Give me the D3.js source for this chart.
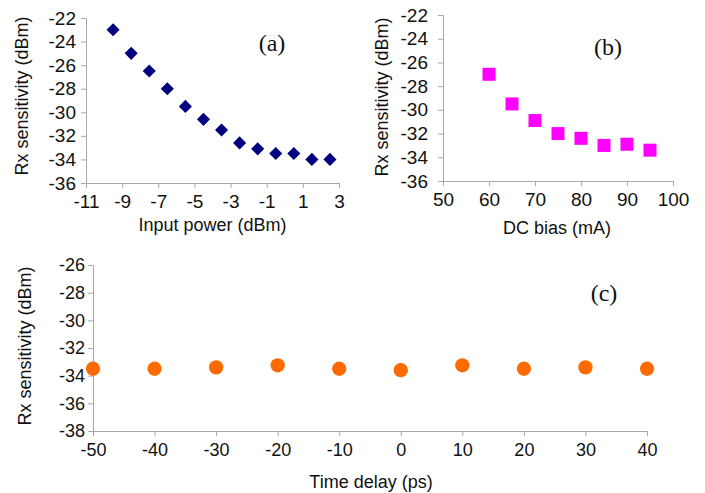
<!DOCTYPE html>
<html>
<head>
<meta charset="utf-8">
<script src="https://cdn.jsdelivr.net/npm/d3@7"></script>
<style>
  body { margin: 0; background: #fff; }
  text { font-family: "Liberation Sans", Arial, sans-serif; fill: #111; }
  .tag { font-family: "Liberation Serif", "Times New Roman", serif; }
</style>
</head>
<body>
<div id="main"></div>
<script>

// (a) sensitivity vs input power
var powerX = [-9.5, -8.5, -7.5, -6.5, -5.5, -4.5, -3.5, -2.5, -1.5, -0.5, 0.5, 1.5, 2.5];
var powerY = [-23, -25, -26.5, -28, -29.5, -30.6, -31.5, -32.6, -33.1, -33.5, -33.5, -34, -34];
var powerTicksX = [-11, -9, -7, -5, -3, -1, 1, 3];
var powerTicksY = [-36, -34, -32, -30, -28, -26, -24, -22];

// (b) sensitivity vs DC bias
var biasX = [60, 65, 70, 75, 80, 85, 90, 95];
var biasY = [-27, -29.5, -30.9, -32, -32.4, -33, -32.9, -33.4];
var biasTicksX = [50, 60, 70, 80, 90, 100];
var biasTicksY = [-36, -34, -32, -30, -28, -26, -24, -22];

// (c) sensitivity vs time delay
var delayX = [-50, -40, -30, -20, -10, 0, 10, 20, 30, 40];
var delayY = [-33.5, -33.5, -33.4, -33.25, -33.5, -33.6, -33.25, -33.5, -33.4, -33.5];
var delayTicksX = [-50, -40, -30, -20, -10, 0, 10, 20, 30, 40];
var delayTicksY = [-38, -36, -34, -32, -30, -28, -26];

var w = 705;
var h = 493;

var svg = d3.select("#main").append("svg")
    .attr("width", w)
    .attr("height", h);

function panel(p) {
  var x = d3.scaleLinear().domain(p.xdom).range([p.left, p.right]);
  var y = d3.scaleLinear().domain(p.ydom).range([p.bottom, p.top]);
  var g = svg.append("g");

  var xa = g.append("g")
      .attr("transform", "translate(0," + p.bottom + ")")
      .call(d3.axisBottom(x).tickValues(p.xticks).tickSize(5).tickPadding(7)
            .tickFormat(function(d) { return String(d); }));
  var ya = g.append("g")
      .attr("transform", "translate(" + p.left + ",0)")
      .call(d3.axisLeft(y).tickValues(p.yticks).tickSize(5).tickPadding(p.ypad)
            .tickFormat(function(d) { return String(d); }));

  [xa, ya].forEach(function(a) {
    a.select(".domain").attr("stroke", "#a8a8a8");
    a.selectAll(".tick line").attr("stroke", "#a8a8a8");
    a.selectAll(".tick text")
      .attr("fill", "#111")
      .style("font-family", '"Liberation Sans", Arial, sans-serif')
      .style("font-size", p.fs + "px");
  });

  g.append("text")
      .attr("x", (p.left + p.right) / 2 + p.xtdx)
      .attr("y", p.xty)
      .attr("text-anchor", "middle")
      .style("font-size", "18px")
      .text(p.xtitle);

  g.append("text")
      .attr("transform", "translate(" + p.ytx + "," + p.yty + ") rotate(-90)")
      .attr("text-anchor", "middle")
      .style("font-size", "18px")
      .text("Rx sensitivity (dBm)");

  g.append("text")
      .attr("class", "tag")
      .attr("x", p.tagx)
      .attr("y", p.tagy)
      .attr("text-anchor", "middle")
      .style("font-size", "24px")
      .text(p.tag);

  var pts = p.xs.map(function(v, i) { return [v, p.ys[i]]; });
  g.selectAll("path.pt")
      .data(pts)
      .enter()
      .append("path")
      .attr("class", "pt")
      .attr("d", d3.symbol().type(p.shape).size(p.size))
      .attr("fill", p.color)
      .attr("transform", function(d) {
        return "translate(" + x(d[0]) + "," + y(d[1]) + ") rotate(" + p.rot + ")";
      });
}

panel({
  xs: powerX, ys: powerY, xticks: powerTicksX, yticks: powerTicksY,
  xdom: [-11, 3], ydom: [-36, -22],
  left: 86, right: 339, top: 18, bottom: 183,
  fs: 19, ypad: 5,
  xtitle: "Input power (dBm)", xty: 231, xtdx: 0,
  ytx: 28, yty: 96,
  tag: "(a)", tagx: 272, tagy: 51,
  shape: d3.symbolSquare, size: 86, rot: 45, color: "#000080"
});

panel({
  xs: biasX, ys: biasY, xticks: biasTicksX, yticks: biasTicksY,
  xdom: [50, 100], ydom: [-36, -22],
  left: 443, right: 673, top: 15, bottom: 181,
  fs: 19, ypad: 10,
  xtitle: "DC bias (mA)", xty: 234, xtdx: -1,
  ytx: 388, yty: 97,
  tag: "(b)", tagx: 608, tagy: 55,
  shape: d3.symbolSquare, size: 169, rot: 0, color: "#ff00ff"
});

panel({
  xs: delayX, ys: delayY, xticks: delayTicksX, yticks: delayTicksY,
  xdom: [-50, 40], ydom: [-38, -26],
  left: 93, right: 647, top: 265, bottom: 431,
  fs: 18, ypad: 3,
  xtitle: "Time delay (ps)", xty: 488, xtdx: 1,
  ytx: 31, yty: 346,
  tag: "(c)", tagx: 604, tagy: 301,
  shape: d3.symbolCircle, size: 160, rot: 0, color: "#ff6a00"
});

</script>
</body>
</html>
